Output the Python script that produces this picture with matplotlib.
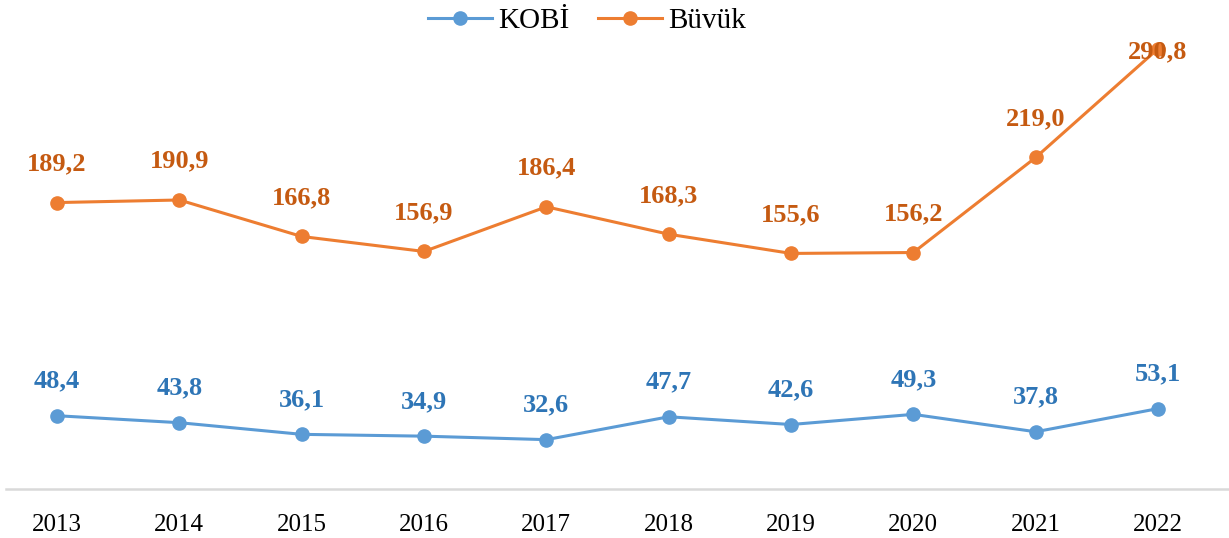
import matplotlib.pyplot as plt

years = ['2013', '2014', '2015', '2016', '2017', '2018', '2019', '2020', '2021', '2022']
kobi = [48.4, 43.8, 36.1, 34.9, 32.6, 47.7, 42.6, 49.3, 37.8, 53.1]
buyuk = [189.2, 190.9, 166.8, 156.9, 186.4, 168.3, 155.6, 156.2, 219.0, 290.8]

plt.rcParams['font.family'] = ['Liberation Serif', 'DejaVu Serif']

fig = plt.figure(figsize=(12.29, 5.38), dpi=100)
ax = fig.add_axes([6 / 1229, 49 / 538, 1 - 6 / 1229, 489 / 538])

x = range(len(years))
ax.plot(x, kobi, color='#5B9BD5', lw=2.2, marker='o', ms=9.5, label='KOBİ')
ax.plot(x, buyuk, color='#ED7D31', lw=2.2, marker='o', ms=9.5, label='Büvük')

for i, v in enumerate(kobi):
    ax.annotate(f'{v:.1f}'.replace('.', ','), (i, v), xytext=(0, 25), textcoords='offset points',
                ha='center', va='center', fontsize=19, fontweight='bold', color='#2E75B6')
for i, v in enumerate(buyuk):
    # last label is pushed down onto the point (clipped at the top, as in the source)
    dy = 28 if i < len(buyuk) - 1 else -2
    ax.annotate(f'{v:.1f}'.replace('.', ','), (i, v), xytext=(0, dy), textcoords='offset points',
                ha='center', va='center', fontsize=19, fontweight='bold', color='#C55A11')

ax.set_xlim(-0.417, 9.58)
ax.set_ylim(0, 323)
ax.set_xticks(list(x))
ax.set_xticklabels(years, fontsize=18)
ax.tick_params(axis='x', length=0, pad=18)
ax.set_yticks([])
for s in ['top', 'right', 'left']:
    ax.spines[s].set_visible(False)
ax.spines['bottom'].set_color('#D9D9D9')
ax.spines['bottom'].set_linewidth(1.8)

fig.legend(loc='center', bbox_to_anchor=(587 / 1229, 1 - 21 / 538), ncol=2, frameon=False,
           fontsize=21, handlelength=2.2, columnspacing=1.0, handletextpad=0.2)

fig.savefig('out.png', dpi=100)
